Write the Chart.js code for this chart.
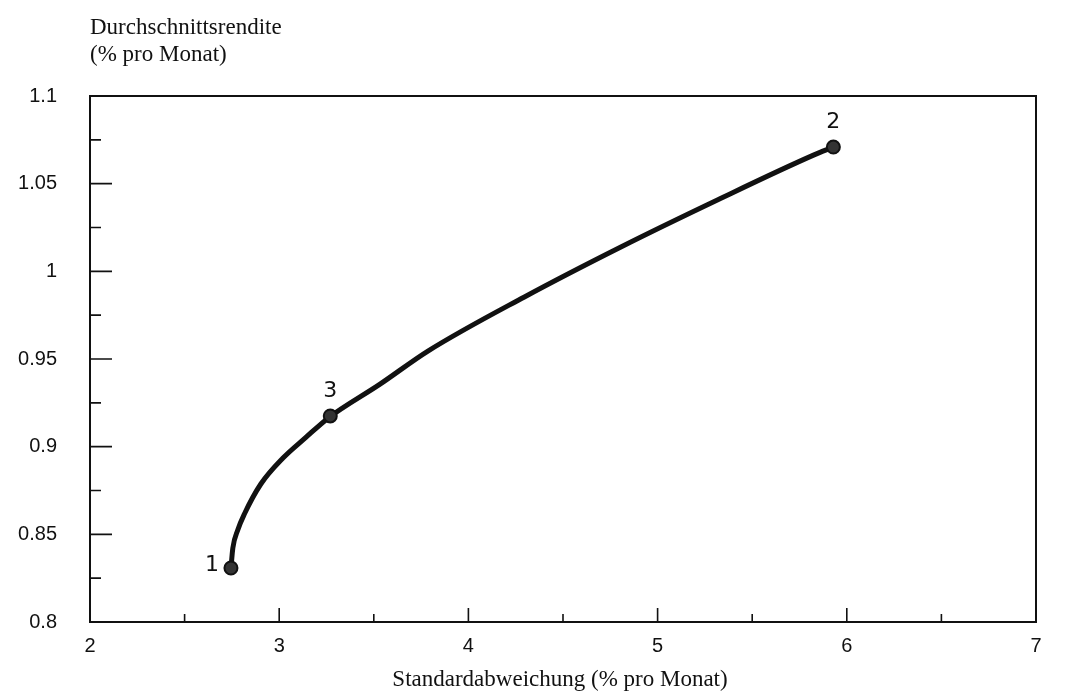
<!DOCTYPE html>
<html>
<head>
<meta charset="utf-8">
<script src="https://cdn.jsdelivr.net/npm/chart.js@4.4.1/dist/chart.umd.min.js"></script>
<style>
  html, body { margin: 0; padding: 0; background: #fff; }
  #wrap { width: 1072px; height: 696px; }
</style>
</head>
<body>
<div id="wrap"><canvas id="frontier"></canvas></div>
<script>
// efficient frontier
const frontierX = [2.745, 2.755, 2.781, 2.816, 2.903, 3.02, 3.138, 3.26, 3.531, 3.786, 4.296, 4.806, 5.316, 5.827, 5.929];
const frontierY = [0.8308, 0.8422, 0.8525, 0.8616, 0.8787, 0.8935, 0.905, 0.9164, 0.9355, 0.9545, 0.9854, 1.0139, 1.0407, 1.0664, 1.0709];

// the three marked portfolios
const portfolioNames = ["1", "2", "3"];
const portfolioX = [2.745, 5.929, 3.27];
const portfolioY = [0.8308, 1.0709, 0.9175];

const xTicks = [2, 3, 4, 5, 6, 7];
const yTicks = [0.8, 0.85, 0.9, 0.95, 1, 1.05, 1.1];

const yTitle = ["Durchschnittsrendite", "(% pro Monat)"];
const xTitle = "Standardabweichung (% pro Monat)";

// box, inward ticks, titles and point names
const frameAndText = {
    id: "frameAndText",
    afterDraw(chart) {
        const ctx = chart.ctx;
        const area = chart.chartArea;
        const xs = chart.scales.x;
        const ys = chart.scales.y;
        ctx.save();
        ctx.strokeStyle = "#111";
        ctx.lineWidth = 2;
        ctx.strokeRect(area.left, area.top, area.right - area.left, area.bottom - area.top);

        ctx.lineWidth = 1.6;
        ctx.beginPath();
        for (let i = 0; i < xTicks.length; i++) {
            const px = xs.getPixelForValue(xTicks[i]);
            ctx.moveTo(px, area.bottom);
            ctx.lineTo(px, area.bottom - 14);
            if (i < xTicks.length - 1) {
                const mx = xs.getPixelForValue((xTicks[i] + xTicks[i + 1]) / 2);
                ctx.moveTo(mx, area.bottom);
                ctx.lineTo(mx, area.bottom - 8);
            }
        }
        for (let i = 0; i < yTicks.length; i++) {
            const py = ys.getPixelForValue(yTicks[i]);
            ctx.moveTo(area.left, py);
            ctx.lineTo(area.left + 22, py);
            if (i < yTicks.length - 1) {
                const my = ys.getPixelForValue((yTicks[i] + yTicks[i + 1]) / 2);
                ctx.moveTo(area.left, my);
                ctx.lineTo(area.left + 11, my);
            }
        }
        ctx.stroke();

        ctx.fillStyle = "#111";
        ctx.font = "23px 'Liberation Serif', 'DejaVu Serif', serif";
        ctx.textAlign = "left";
        ctx.textBaseline = "middle";
        ctx.fillText(yTitle[0], area.left, 28);
        ctx.fillText(yTitle[1], area.left, 55);
        ctx.textAlign = "center";
        ctx.fillText(xTitle, 560, 680);

        // names next to the marked portfolios
        const meta = chart.getDatasetMeta(1);
        ctx.font = "22px 'DejaVu Sans', sans-serif";
        meta.data.forEach((pt, i) => {
            const name = portfolioNames[i];
            if (name === "1") {
                ctx.fillText(name, pt.x - 19, pt.y - 3);
            } else {
                ctx.fillText(name, pt.x, pt.y - 25);
            }
        });
        ctx.restore();
    }
};

const ctxFrontier = document.getElementById("frontier");
const dataFrontier = {
    datasets: [{
        label: "Effizienzkurve",
        data: frontierX.map((x, i) => ({ x: x, y: frontierY[i] })),
        showLine: true,
        cubicInterpolationMode: "monotone",
        borderColor: "#111",
        borderWidth: 5,
        pointRadius: 0,
        order: 2,
    }, {
        label: "Portefeuilles",
        data: portfolioX.map((x, i) => ({ x: x, y: portfolioY[i] })),
        showLine: false,
        pointRadius: 6.5,
        pointBackgroundColor: "#333",
        pointBorderColor: "#111",
        pointBorderWidth: 2,
        order: 1,
    }],
};
const configFrontier = {
    type: "scatter",
    data: dataFrontier,
    plugins: [frameAndText],
    options: {
        responsive: true,
        maintainAspectRatio: false,
        animation: false,
        layout: { padding: { top: 96, right: 36, left: 0, bottom: 0 } },
        plugins: {
            legend: { display: false },
            tooltip: { enabled: false },
        },
        scales: {
            x: {
                type: "linear",
                min: 2,
                max: 7,
                afterBuildTicks: (s) => { s.ticks = xTicks.map(v => ({ value: v })); },
                afterFit: (s) => { s.height = 74; },
                grid: { display: false },
                border: { display: false },
                ticks: {
                    padding: 4,
                    color: "#111",
                    font: { family: "'Liberation Sans', Arial, sans-serif", size: 20 },
                },
            },
            y: {
                type: "linear",
                min: 0.8,
                max: 1.1,
                afterBuildTicks: (s) => { s.ticks = yTicks.map(v => ({ value: v })); },
                afterFit: (s) => { s.width = 90; },
                grid: { display: false },
                border: { display: false },
                ticks: {
                    padding: 25,
                    color: "#111",
                    font: { family: "'Liberation Sans', Arial, sans-serif", size: 20 },
                    callback: (v) => String(+Number(v).toFixed(2)),
                },
            },
        },
    },
};
new Chart(ctxFrontier, configFrontier);
</script>
</body>
</html>
